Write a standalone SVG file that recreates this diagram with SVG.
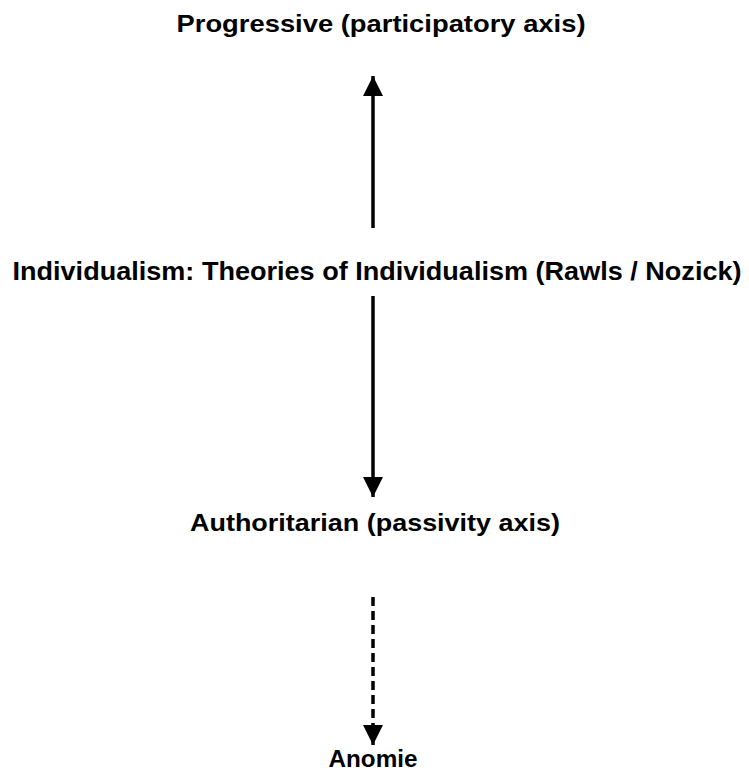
<svg xmlns="http://www.w3.org/2000/svg" width="749" height="774" viewBox="0 0 749 774">
  <style>
    .lbl { font-family: "Liberation Sans", Arial, sans-serif; font-weight: bold; font-size: 24px; fill: #000; text-anchor: middle; }
    .tall { font-size: 26px; }
    .axis { stroke: #000; stroke-width: 3.5; fill: none; }
    .dash { stroke-dasharray: 9 5; }
  </style>
  <defs>
    <marker id="head" viewBox="0 0 20 20" refX="20" refY="10" markerWidth="20" markerHeight="21" markerUnits="userSpaceOnUse" orient="auto">
      <path d="M0,0 L20,10 L0,20 Z" fill="#000"/>
    </marker>
  </defs>
  <rect width="749" height="774" fill="#fff"/>

  <g id="progressive">
    <text class="lbl" x="381" y="32" textLength="409" lengthAdjust="spacingAndGlyphs">Progressive (participatory axis)</text>
  </g>
  <g id="individualism">
    <text class="lbl tall" x="377" y="280" textLength="729" lengthAdjust="spacingAndGlyphs">Individualism: Theories of Individualism (Rawls / Nozick)</text>
  </g>
  <g id="authoritarian">
    <text class="lbl" x="375" y="531" textLength="370" lengthAdjust="spacingAndGlyphs">Authoritarian (passivity axis)</text>
  </g>
  <g id="anomie">
    <text class="lbl" x="373" y="767" textLength="89" lengthAdjust="spacingAndGlyphs">Anomie</text>
  </g>

  <g id="connectors">
    <line class="axis" x1="373" y1="228" x2="373" y2="76" marker-end="url(#head)"/>
    <line class="axis" x1="373" y1="296" x2="373" y2="497" marker-end="url(#head)"/>
    <line class="axis dash" x1="373" y1="597" x2="373" y2="745" marker-end="url(#head)"/>
  </g>
</svg>
